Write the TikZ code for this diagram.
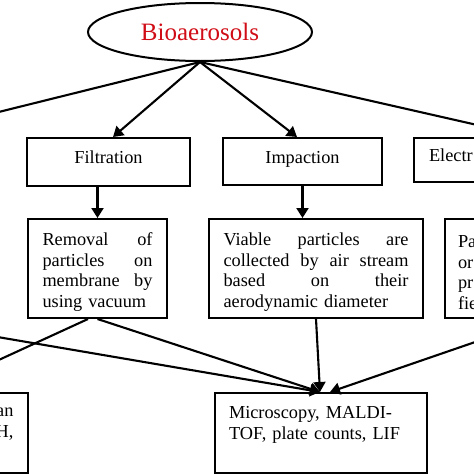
\documentclass[tikz,border=0pt]{standalone}
\usepackage{fontspec}
\setmainfont{Liberation Serif}
\usetikzlibrary{arrows.meta,shapes.geometric,calc}
\definecolor{rootred}{RGB}{208,12,22}
\newcommand{\jline}[2]{\makebox[#1][l]{#2}}
\newcommand{\topgap}{\rule{0pt}{20pt}}
\begin{document}
\begin{tikzpicture}[x=1pt,y=-1pt,
  box/.style={draw,line width=2pt,rectangle,inner sep=0pt,
    font=\fontsize{18.3}{20.7}\selectfont},
  headbox/.style={box,text height=12.5pt,text depth=9.5pt},
  conn/.style={line width=2.1pt},
  arr/.style={conn,-{Triangle[length=10pt,width=12pt]}}]
\useasboundingbox (0,0) rectangle (474,474);
\clip (0,0) rectangle (474,474);

% root
\node[draw,ellipse,line width=2pt,inner sep=0pt,minimum width=224pt,minimum height=58pt,
  text=rootred,font=\fontsize{25}{30}\selectfont] (bio) at (200,32) {Bioaerosols};

% top row
\node[headbox,minimum width=160pt,minimum height=48pt] (lt) at (-102,162) {};
\node[headbox,minimum width=163pt,minimum height=48pt] (filt) at (108.5,162) {Filtration};
\node[headbox,minimum width=159pt,minimum height=47pt] (imp) at (302.5,161.5) {Impaction};
\node[headbox,minimum width=232pt,minimum height=44pt,text width=202pt,align=left,inner xsep=15pt] (elec) at (530,160) {Electr};

% middle row
\node[box,minimum width=214pt,minimum height=99pt] (lm) at (-108,268.5) {};
\node[box,minimum width=139pt,minimum height=99pt,text width=110pt,align=left] (rem) at (97.5,268.5)
  {\topgap\jline{110pt}{Removal\hfill of}\\\jline{110pt}{particles\hfill on}\\\jline{110pt}{membrane\hfill by}\\using vacuum};
\node[box,minimum width=214pt,minimum height=99pt,text width=185pt,align=left] (via) at (316,268.5)
  {\topgap\jline{185pt}{Viable\hfill particles\hfill are}\\\jline{185pt}{collected\hfill by\hfill air\hfill stream}\\\jline{185pt}{based\hfill on\hfill their}\\aerodynamic diameter};
\node[box,minimum width=214pt,minimum height=99pt,text width=188pt,align=left] (rm) at (552,268.5)
  {\topgap Pa\\or\\pr\\fie};

% bottom row
\node[box,minimum width=214pt,minimum height=80pt,text width=185pt,align=right] (lb) at (-79,433)
  {an\\H,\\\mbox{}};
\node[box,minimum width=212pt,minimum height=80pt,text width=184pt,align=left] (mic) at (321,433)
  {Microscopy, MALDI-\\TOF, plate counts, LIF\\\mbox{}};

% connectors
\draw[arr] (bio.south) -- (lt.north);
\draw[arr] (bio.south) -- ([xshift=4.5pt]filt.north);
\draw[arr] (bio.south) -- ([xshift=-5.5pt]imp.north);
\draw[arr] (bio.south) -- (elec.north);

\draw[arr] (rem.north |- filt.south) -- (rem.north);
\draw[arr] (imp.south) -- (imp.south |- via.north);

\draw[arr] ([xshift=-9.5pt]rem.south) -- ([xshift=8pt]lb.north);
\draw[arr] (rem.south) -- ([xshift=-1pt]mic.north);
\draw[arr] (lm.south) -- ([xshift=-1pt]mic.north);
\draw[arr] (via.south) -- ([xshift=-1pt]mic.north);
\draw[arr] ([xshift=-10pt]rm.south) -- ([xshift=9pt]mic.north);
\end{tikzpicture}
\end{document}
